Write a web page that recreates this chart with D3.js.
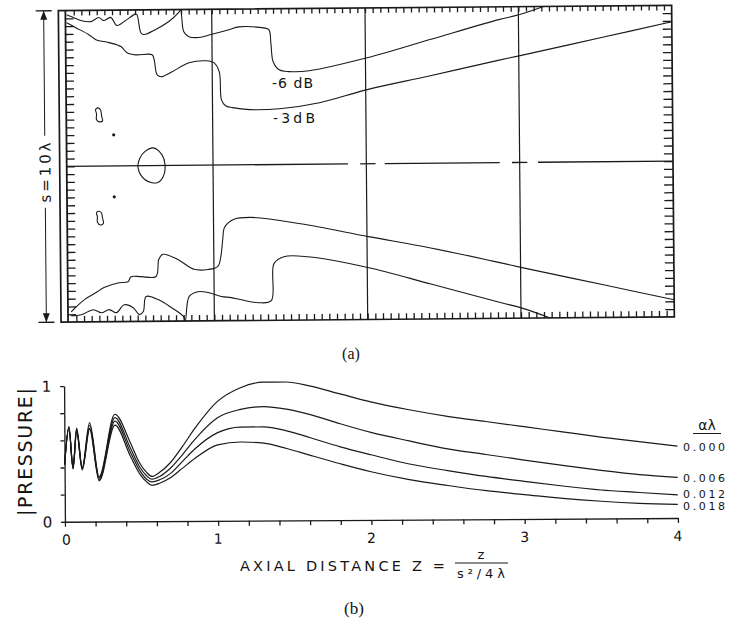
<!DOCTYPE html>
<html>
<head>
<meta charset="utf-8">
<script src="https://cdnjs.cloudflare.com/ajax/libs/d3/7.8.5/d3.min.js"></script>
<style>
  body { margin: 0; background: #fff; }
  svg { display: block; }
  text { font-family: "DejaVu Sans", sans-serif; fill: #141414; }
  .serif { font-family: "Liberation Serif", "DejaVu Serif", serif; }
</style>
</head>
<body>
<div id="chart"></div>
<script>
// ---------- (a) contour data: [Z, y / lambda] ----------
let upper6dB = [[0.054,4.87],[0.087,4.80],[0.152,4.67],[0.211,4.64],[0.263,4.77],[0.295,4.67],[0.341,4.77],[0.380,4.51],[0.439,4.67],[0.498,4.86],[0.511,4.86],[0.537,4.27],[0.556,4.21],[0.634,4.37],[0.720,4.62],[0.785,4.91],[0.798,5.0],[0.804,4.77],[0.817,4.29],[0.850,4.13],[0.915,4.10],[0.993,4.19],[1.111,4.34],[1.176,4.43],[1.339,4.39],[1.372,4.33],[1.385,3.85],[1.398,3.30],[1.437,3.04],[1.502,2.98],[1.632,3.00],[2.010,3.40],[2.415,3.96],[2.872,4.59],[3.002,4.74],[3.165,5.0]];
let upper3dB = [[0.054,4.61],[0.113,4.45],[0.198,4.22],[0.243,4.06],[0.328,3.96],[0.406,3.83],[0.446,3.63],[0.504,3.56],[0.609,3.56],[0.622,3.40],[0.641,2.91],[0.667,2.85],[0.739,3.01],[0.850,3.29],[0.961,3.35],[1.013,3.28],[1.046,2.99],[1.059,2.09],[1.085,1.90],[1.130,1.84],[1.241,1.77],[1.437,1.79],[1.698,1.97],[2.010,2.38],[2.415,2.80],[2.872,3.29],[3.002,3.42],[3.555,4.00],[4.0,4.47]];
let lower3dB = [[0.067,-4.67],[0.100,-4.51],[0.152,-4.29],[0.230,-4.06],[0.282,-3.90],[0.380,-3.75],[0.439,-3.72],[0.459,-3.56],[0.524,-3.56],[0.622,-3.56],[0.641,-3.01],[0.667,-2.85],[0.765,-3.02],[0.870,-3.34],[0.961,-3.35],[1.026,-3.25],[1.046,-2.93],[1.059,-2.39],[1.072,-2.00],[1.130,-1.75],[1.241,-1.69],[1.567,-1.91],[2.010,-2.34],[2.415,-2.72],[2.872,-3.22],[3.002,-3.37],[3.555,-3.97],[4.0,-4.45]];
let lower6dB = [[0.067,-4.80],[0.132,-4.77],[0.211,-4.61],[0.263,-4.71],[0.315,-4.61],[0.361,-4.71],[0.413,-4.46],[0.472,-4.56],[0.511,-4.78],[0.537,-4.68],[0.556,-4.20],[0.634,-4.30],[0.720,-4.56],[0.798,-4.85],[0.810,-5.0],[0.837,-4.21],[0.896,-4.06],[0.961,-4.09],[1.046,-4.22],[1.111,-4.26],[1.176,-4.33],[1.287,-4.43],[1.372,-4.37],[1.392,-3.18],[1.457,-2.96],[1.613,-2.97],[2.010,-3.34],[2.415,-3.88],[2.872,-4.50],[3.002,-4.67],[3.190,-5.0]];
let islandUpper = [[0.250,1.87],[0.269,1.81],[0.276,1.61],[0.282,1.45],[0.263,1.42],[0.243,1.49],[0.243,1.68],[0.237,1.81]];
let islandLower = [[0.250,-1.45],[0.269,-1.50],[0.276,-1.66],[0.282,-1.84],[0.263,-1.89],[0.243,-1.80],[0.243,-1.62],[0.237,-1.50]];
let islandCenter = [[0.609,0.57],[0.667,0.35],[0.687,0.03],[0.674,-0.36],[0.635,-0.55],[0.556,-0.45],[0.511,-0.07],[0.524,0.25],[0.556,0.45]];
let dotPoints = [[0.354,1.0],[0.354,-0.99]];
let axisSegments = [[0.046,1.88],[1.96,2.06],[2.12,2.87],[2.95,3.05],[3.12,4.0]];
let gridZ = [1, 2, 3];

// ---------- (b) on-axis pressure ----------
let zAxial = [0, 0.03, 0.055, 0.08, 0.115, 0.165, 0.225, 0.33, 0.43, 0.49, 0.535, 0.57, 0.62, 0.69, 0.77, 0.85, 1.0, 1.15, 1.3, 1.45, 1.6, 1.8, 2.0, 2.25, 2.5, 2.75, 3.0, 3.25, 3.5, 3.75, 4.0];
let p000 = [0.42, 0.70, 0.40, 0.69, 0.40, 0.73, 0.33, 0.79, 0.58, 0.43, 0.36, 0.33, 0.36, 0.43, 0.55, 0.68, 0.88, 0.98, 1.02, 1.02, 0.99, 0.93, 0.87, 0.81, 0.76, 0.72, 0.68, 0.64, 0.60, 0.565, 0.53];
let p006 = [0.42, 0.70, 0.40, 0.68, 0.39, 0.71, 0.32, 0.765, 0.54, 0.40, 0.335, 0.31, 0.33, 0.39, 0.49, 0.60, 0.76, 0.82, 0.84, 0.82, 0.78, 0.71, 0.645, 0.58, 0.52, 0.477, 0.434, 0.393, 0.355, 0.322, 0.30];
let p012 = [0.42, 0.69, 0.39, 0.67, 0.39, 0.69, 0.31, 0.74, 0.51, 0.375, 0.31, 0.29, 0.305, 0.35, 0.44, 0.53, 0.65, 0.69, 0.69, 0.66, 0.61, 0.54, 0.48, 0.41, 0.36, 0.315, 0.277, 0.241, 0.21, 0.19, 0.17];
let p018 = [0.42, 0.69, 0.39, 0.665, 0.38, 0.68, 0.30, 0.71, 0.48, 0.35, 0.29, 0.265, 0.28, 0.32, 0.39, 0.46, 0.56, 0.58, 0.57, 0.53, 0.48, 0.415, 0.355, 0.295, 0.25, 0.21, 0.18, 0.15, 0.127, 0.11, 0.10];
let seriesNames = ["0.000", "0.006", "0.012", "0.018"];
let xTickLabels = [0, 1, 2, 3, 4];
let yTickLabels = [0, 1];

let svg = d3.select("#chart").append("svg")
    .attr("width", 741)
    .attr("height", 620);

// ======== panel (a) ========
let gTop = svg.append("g").attr("transform", "rotate(-0.5, 366, 164)");

let xTop = d3.scaleLinear().domain([0, 4]).range([59.7, 673]);
let yTop = d3.scaleLinear().domain([-5, 5]).range([319.5, 8]);

let ink = "#1a1a1a";

// frame
gTop.append("rect")
    .attr("x", xTop(0)).attr("y", yTop(5))
    .attr("width", xTop(4) - xTop(0)).attr("height", yTop(-5) - yTop(5))
    .attr("fill", "none").attr("stroke", ink).attr("stroke-width", 1.7);
gTop.append("line")
    .attr("x1", xTop(0) + 7).attr("x2", xTop(0) + 7)
    .attr("y1", yTop(5)).attr("y2", yTop(-5))
    .attr("stroke", ink).attr("stroke-width", 1.8);

// tick rows
let zTicks = d3.range(2, 80).map(i => i * 0.05);
let yTicks = d3.range(-19, 20).map(i => i * 0.25);

gTop.append("g").attr("transform", `translate(0,${yTop(5)})`)
    .call(d3.axisBottom(xTop).tickValues(zTicks).tickSize(5).tickSizeOuter(0).tickFormat(""));
gTop.append("g").attr("transform", `translate(0,${yTop(-5)})`)
    .call(d3.axisTop(xTop).tickValues(zTicks).tickSize(6).tickSizeOuter(0).tickFormat(""));
gTop.append("g").attr("transform", `translate(${xTop(0) + 7},0)`)
    .call(d3.axisRight(yTop).tickValues(yTicks).tickSize(8).tickSizeOuter(0).tickFormat(""));
gTop.append("g").attr("transform", `translate(${xTop(4)},0)`)
    .call(d3.axisLeft(yTop).tickValues(yTicks).tickSize(9).tickSizeOuter(0).tickFormat(""));
gTop.selectAll(".domain").remove();
gTop.selectAll(".tick line").attr("stroke", ink).attr("stroke-width", 1.3);

// grid verticals
gTop.selectAll(".grid").data(gridZ).enter().append("line")
    .attr("x1", d => xTop(d)).attr("x2", d => xTop(d))
    .attr("y1", yTop(5)).attr("y2", yTop(-5))
    .attr("stroke", ink).attr("stroke-width", 1.2);

// beam axis
gTop.selectAll(".axseg").data(axisSegments).enter().append("line")
    .attr("x1", d => xTop(d[0])).attr("x2", d => xTop(d[1]))
    .attr("y1", yTop(0)).attr("y2", yTop(0))
    .attr("stroke", ink).attr("stroke-width", 1.3);

// contours
let contourLine = d3.line()
    .x(d => xTop(d[0])).y(d => yTop(d[1]))
    .curve(d3.curveCatmullRom.alpha(0.5));
let closedLine = d3.line()
    .x(d => xTop(d[0])).y(d => yTop(d[1]))
    .curve(d3.curveCatmullRomClosed.alpha(0.5));

[upper6dB, upper3dB, lower3dB, lower6dB].forEach(c => {
    gTop.append("path").attr("d", contourLine(c))
        .attr("fill", "none").attr("stroke", ink).attr("stroke-width", 1.1);
});
[islandUpper, islandLower, islandCenter].forEach(c => {
    gTop.append("path").attr("d", closedLine(c))
        .attr("fill", "none").attr("stroke", ink).attr("stroke-width", 1.1);
});
gTop.selectAll(".dot").data(dotPoints).enter().append("circle")
    .attr("cx", d => xTop(d[0])).attr("cy", d => yTop(d[1]))
    .attr("r", 1.6).attr("fill", ink);

// s = 10 lambda dimension
let dimX = 45;
gTop.append("line").attr("x1", 37).attr("x2", 53).attr("y1", yTop(5)).attr("y2", yTop(5))
    .attr("stroke", ink).attr("stroke-width", 1.4);
gTop.append("line").attr("x1", 37).attr("x2", 53).attr("y1", yTop(-5)).attr("y2", yTop(-5))
    .attr("stroke", ink).attr("stroke-width", 1.4);
gTop.append("line").attr("x1", dimX).attr("x2", dimX).attr("y1", yTop(5)).attr("y2", 133)
    .attr("stroke", ink).attr("stroke-width", 1);
gTop.append("line").attr("x1", dimX).attr("x2", dimX).attr("y1", 205).attr("y2", yTop(-5))
    .attr("stroke", ink).attr("stroke-width", 1);
gTop.append("path")
    .attr("d", `M${dimX},${yTop(5)} l-3.5,9 l7,0 z M${dimX},${yTop(-5)} l-3.5,-9 l7,0 z`)
    .attr("fill", ink);
gTop.append("text")
    .attr("transform", `translate(50.5,${(yTop(0) + 6)}) rotate(-90)`)
    .attr("text-anchor", "middle")
    .attr("font-size", 15)
    .attr("textLength", 60).attr("lengthAdjust", "spacing")
    .text("s=10λ");

// contour labels
svg.append("text").attr("x", 272).attr("y", 88).attr("font-size", 14)
    .attr("textLength", 41).attr("lengthAdjust", "spacing").text("-6 dB");
svg.append("text").attr("x", 273).attr("y", 123).attr("font-size", 14)
    .attr("textLength", 42).attr("lengthAdjust", "spacing").text("-3dB");

svg.append("text").attr("class", "serif").attr("x", 351).attr("y", 359)
    .attr("text-anchor", "middle").attr("font-size", 16).text("(a)");

// ======== panel (b) ========
let gBot = svg.append("g").attr("transform", "rotate(-0.35, 371, 452)");

let xBot = d3.scaleLinear().domain([0, 4]).range([64.5, 677.5]);
let yBot = d3.scaleLinear().domain([0, 1]).range([519.9, 384.2]);

gBot.append("g").attr("transform", `translate(0,${yBot(0)})`)
    .call(d3.axisBottom(xBot).tickValues(d3.range(0, 21).map(i => i * 0.2)).tickSize(5).tickSizeOuter(0).tickFormat(""));
gBot.append("g").attr("transform", `translate(${xBot(0)},0)`)
    .call(d3.axisLeft(yBot).tickValues(d3.range(0, 6).map(i => i * 0.2)).tickSize(4).tickSizeOuter(0).tickFormat(""));
gBot.selectAll(".domain").attr("stroke", ink).attr("stroke-width", 1.3);
gBot.selectAll(".tick line").attr("stroke", ink).attr("stroke-width", 1.3);

gBot.selectAll(".xlab").data(xTickLabels).enter().append("text")
    .attr("x", d => xBot(d) + (d === 0 ? 1.5 : 0)).attr("y", yBot(0) + 23)
    .attr("text-anchor", "middle").attr("font-size", 14)
    .text(d => d);
gBot.selectAll(".ylab").data(yTickLabels).enter().append("text")
    .attr("x", 47).attr("y", d => yBot(d) + 5.5)
    .attr("text-anchor", "middle").attr("font-size", 15)
    .text(d => d);

let pressureLine = d3.line()
    .x((d, i) => xBot(zAxial[i])).y(d => yBot(d))
    .curve(d3.curveMonotoneX);
[p000, p006, p012, p018].forEach(s => {
    gBot.append("path").attr("d", pressureLine(s))
        .attr("fill", "none").attr("stroke", ink).attr("stroke-width", 1.2);
});

// legend labels
let legendY = [451, 482, 497.5, 509.5];
svg.selectAll(".leg").data(seriesNames).enter().append("text")
    .attr("x", 683).attr("y", (d, i) => legendY[i])
    .attr("font-size", 11)
    .attr("textLength", 42).attr("lengthAdjust", "spacing")
    .text(d => d);
svg.append("text").attr("x", 707).attr("y", 430).attr("text-anchor", "middle")
    .attr("font-size", 14).text("αλ");
svg.append("line").attr("x1", 693).attr("x2", 721).attr("y1", 433.5).attr("y2", 433.5)
    .attr("stroke", ink).attr("stroke-width", 1);

// axis titles
svg.append("text")
    .attr("transform", "translate(32,452) rotate(-90)")
    .attr("text-anchor", "middle").attr("font-size", 19)
    .attr("textLength", 128).attr("lengthAdjust", "spacing")
    .text("|PRESSURE|");
svg.append("text").attr("x", 240).attr("y", 570.5).attr("font-size", 14.5)
    .attr("textLength", 205).attr("lengthAdjust", "spacing")
    .text("AXIAL DISTANCE Z =");
svg.append("text").attr("x", 481).attr("y", 559).attr("text-anchor", "middle")
    .attr("font-size", 13).text("z");
svg.append("line").attr("x1", 455).attr("x2", 508).attr("y1", 563).attr("y2", 563)
    .attr("stroke", ink).attr("stroke-width", 1.1);
svg.append("text").attr("x", 481).attr("y", 578).attr("text-anchor", "middle")
    .attr("font-size", 13).attr("textLength", 48).attr("lengthAdjust", "spacing")
    .text("s²/4λ");

svg.append("text").attr("class", "serif").attr("x", 354).attr("y", 614)
    .attr("text-anchor", "middle").attr("font-size", 17).text("(b)");
</script>
</body>
</html>
